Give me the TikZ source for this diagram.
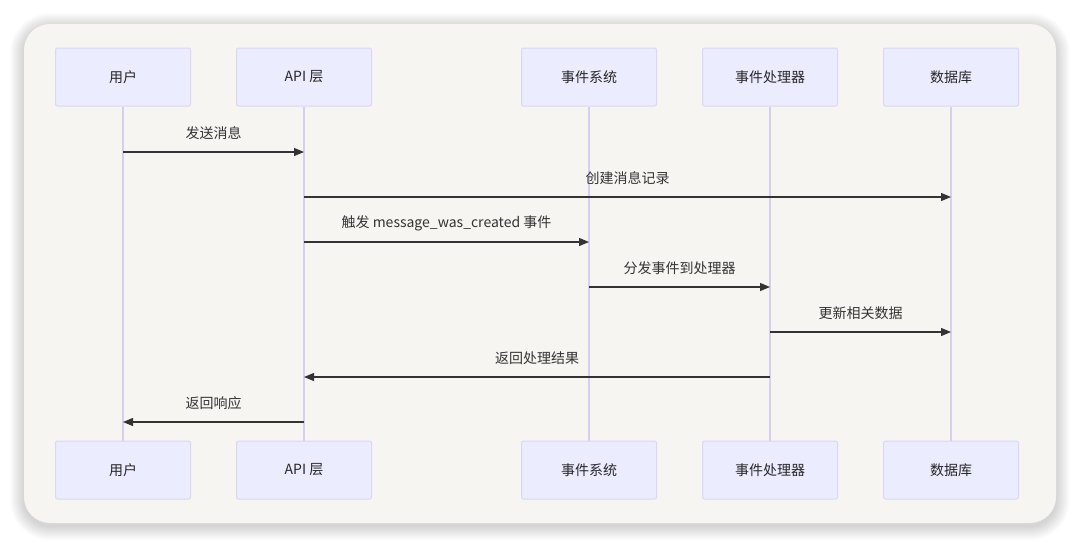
\documentclass[tikz,border=0pt]{standalone}
\usepackage{fontspec}
\setmainfont{Noto Sans CJK SC}
\usetikzlibrary{arrows.meta}
\definecolor{bgpaper}{HTML}{F6F5F2}
\definecolor{actorfill}{HTML}{ECECFF}
\definecolor{actorline}{HTML}{DCD6F5}
\definecolor{lifecol}{HTML}{D6CFF2}
\definecolor{msgcol}{HTML}{333333}

\begin{document}
\begin{tikzpicture}[x=1pt,y=-1pt,
    actor/.style={draw=actorline,fill=actorfill,line width=1pt,rounded corners=2pt,
      minimum width=135pt,minimum height=58pt,inner sep=0pt,
      font=\fontsize{14}{16}\selectfont,text=black!85},
    lifeline/.style={draw=lifecol,line width=1.5pt},
    msg/.style={draw=msgcol,line width=1.2pt,-{Triangle[length=10pt,width=8pt]}},
    msgtext/.style={font=\fontsize{14}{16}\selectfont,text=msgcol}]
    \useasboundingbox (0,0) rectangle (1080,547);
    \fill[white] (0,0) rectangle (1080,547);
    % Schatten und Hintergrund
    \foreach \s in {1,...,14}
      \fill[black,opacity=0.011,rounded corners=26pt+\s pt]
        (24-\s,24-\s+3) rectangle (1056+\s,523+\s+3);
    \fill[bgpaper,rounded corners=26pt] (24,24) rectangle (1056,523);
    % Teilnehmer oben und unten
    \foreach \name/\x/\txt in {user/123/用户,api/304/API 层,bus/589/事件系统,handler/770/事件处理器,db/951/数据库}{
      \node[actor] (\name top) at (\x,77) {\txt};
      \node[actor] (\name bot) at (\x,470) {\txt};
      \draw[lifeline] (\name top) -- (\name bot);
    }
    % Nachrichten
    \foreach \from/\to/\y/\txt in {user/api/152/发送消息,api/db/197/创建消息记录,
        api/bus/242/触发 message\_was\_created 事件,bus/handler/287/分发事件到处理器,
        handler/db/332/更新相关数据,handler/api/377/返回处理结果,api/user/422/返回响应}
      \draw[msg] (\from top |- 0,\y) -- (\to top |- 0,\y)
        node[msgtext,midway,yshift=19pt] {\txt};
\end{tikzpicture}
\end{document}
